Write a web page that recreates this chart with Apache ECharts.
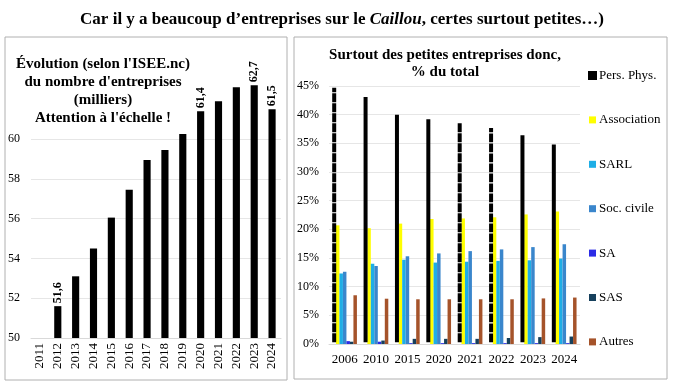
<!DOCTYPE html>
<html><head><meta charset="utf-8">
<script src="https://cdn.jsdelivr.net/npm/echarts@6/dist/echarts.min.js"></script>
<style>html,body{margin:0;padding:0;background:#fff}#c{width:684px;height:385px}</style>
</head><body><div id="c"></div>
<script>
const years = ['2011','2012','2013','2014','2015','2016','2017','2018','2019','2020','2021','2022','2023','2024'];
const entreprises = [null, 51.6, 53.1, 54.5, 56.05, 57.45, 58.95, 59.45, 60.25, 61.4, 61.9, 62.6, 62.7, 61.5];
const labelledYears = ['2012','2020','2023','2024'];
const leftTicks = [50, 52, 54, 56, 58, 60];

const periods = ['2006','2010','2015','2020','2021','2022','2023','2024'];
const persPhys   = [45.0, 43.4, 40.3, 39.5, 38.9, 38.0, 36.7, 35.1];
const association= [20.7, 20.2, 21.0, 21.8, 21.9, 22.1, 22.6, 23.1];
const sarl       = [12.3, 14.0, 14.7, 14.2, 14.35, 14.5, 14.6, 14.9];
const socCivile  = [12.6, 13.6, 15.3, 15.8, 16.2, 16.5, 16.9, 17.4];
const sa         = [0.5, 0.4, 0.15, 0.15, 0.15, 0.15, 0.15, 0.15];
const sas        = [0.4, 0.6, 0.9, 0.9, 0.9, 1.05, 1.2, 1.3];
const autres     = [8.5, 7.9, 7.8, 7.8, 7.8, 7.8, 7.95, 8.1];
const seriesNames = ['Pers. Phys.','Association','SARL','Soc. civile','SA','SAS','Autres'];
const seriesColors = ['#000000','#ffff00','#1eaee6','#3a86cc','#2b2be6','#16405c','#a5532a'];

const F = '"Liberation Serif", "Times New Roman", serif';
const chart = echarts.init(document.getElementById('c'), null, {renderer:'canvas'});
const rightData = [persPhys, association, sarl, socCivile, sa, sas, autres];
const leftMax = 64;
const lastTick = leftTicks[leftTicks.length-1];

const rightSeries = rightData.map((d, i) => ({
  type:'bar', name: seriesNames[i], xAxisIndex:1, yAxisIndex:1, data:d,
  barGap:'0%', barCategoryGap:'22%',
  itemStyle: i === 0
    ? {color:'#000', borderColor:'#000', borderWidth:4, borderType:[8,2]}
    : {color: seriesColors[i]},
  z: i === 0 ? 3 : 2
}));

const splitColors = [];
for (let v = leftTicks[0]; v <= leftMax; v += 2) splitColors.push(v <= lastTick ? '#e6e6e6' : 'rgba(0,0,0,0)');

chart.setOption({
  animation:false,
  textStyle:{fontFamily:F},
  graphic:[
    {type:'rect', shape:{x:5, y:37, width:282, height:343}, style:{fill:'none', stroke:'#b0b0b0', lineWidth:1}, z:-1},
    {type:'rect', shape:{x:294, y:37, width:373, height:342}, style:{fill:'none', stroke:'#b0b0b0', lineWidth:1}, z:-1}
  ],
  title:[
    {text:'{b|Car il y a beaucoup d’entreprises sur le }{i|Caillou}{b|, certes surtout petites…)}',
     left:337, textAlign:'center', top:6,
     textStyle:{rich:{
       b:{fontFamily:F, fontWeight:'bold', fontSize:17, color:'#000'},
       i:{fontFamily:F, fontWeight:'bold', fontStyle:'italic', fontSize:17, color:'#000'}}}},
    {text:"Évolution (selon l'ISEE.nc)\ndu nombre d'entreprises\n(milliers)\nAttention à l'échelle !",
     left:98, textAlign:'center', top:50,
     textStyle:{fontFamily:F, fontWeight:'bold', fontSize:15, lineHeight:18, color:'#000'}},
    {text:"Surtout des petites entreprises donc,\n% du total",
     left:440, textAlign:'center', top:42,
     textStyle:{fontFamily:F, fontWeight:'bold', fontSize:15, lineHeight:17, color:'#000'}}
  ],
  legend:{
    orient:'vertical', left:583, top:64, itemGap:31.4, itemWidth:7, itemHeight:7,
    icon:'rect', data: seriesNames,
    textStyle:{fontFamily:F, fontSize:13, color:'#000', padding:[0,0,0,-2]}
  },
  grid:[
    {left:31, right:403, top:338 - (leftMax - leftTicks[0]) * 19.9, bottom:47},
    {left:329, right:104, top:86, bottom:41}
  ],
  xAxis:[
    {type:'category', gridIndex:0, data:years,
     axisLine:{lineStyle:{color:'#d9d9d9'}}, axisTick:{show:false},
     axisLabel:{rotate:90, interval:0, fontFamily:F, fontSize:13, color:'#000', margin:5}},
    {type:'category', gridIndex:1, data:periods,
     axisLine:{lineStyle:{color:'#d9d9d9'}}, axisTick:{show:false},
     axisLabel:{interval:0, fontFamily:F, fontSize:13, color:'#000', margin:9}}
  ],
  yAxis:[
    {type:'value', gridIndex:0, min:leftTicks[0], max:leftMax, interval:2,
     axisLine:{show:false}, axisTick:{show:false},
     splitLine:{lineStyle:{color:splitColors}},
     axisLabel:{fontFamily:F, fontSize:12, color:'#000', margin:11,
       formatter: v => (v <= lastTick ? String(v) : '')}},
    {type:'value', gridIndex:1, min:0, max:45, interval:5,
     axisLine:{show:false}, axisTick:{show:false},
     splitLine:{lineStyle:{color:'#e6e6e6'}},
     axisLabel:{fontFamily:F, fontSize:12, color:'#000', margin:10, formatter:'{value}%'}}
  ],
  series:[
    {type:'bar', xAxisIndex:0, yAxisIndex:0, barWidth:'40%',
     itemStyle:{color:'#000'},
     data: entreprises.map((v, i) => ({
       value: v,
       label: labelledYears.includes(years[i]) ? {
         show:true, position:'top', rotate:90, distance:3, align:'left', verticalAlign:'middle',
         fontFamily:F, fontWeight:'bold', fontSize:12, color:'#000',
         formatter: p => String(p.value).replace('.', ',')
       } : {show:false}
     }))},
    ...rightSeries
  ]
});
</script></body></html>
